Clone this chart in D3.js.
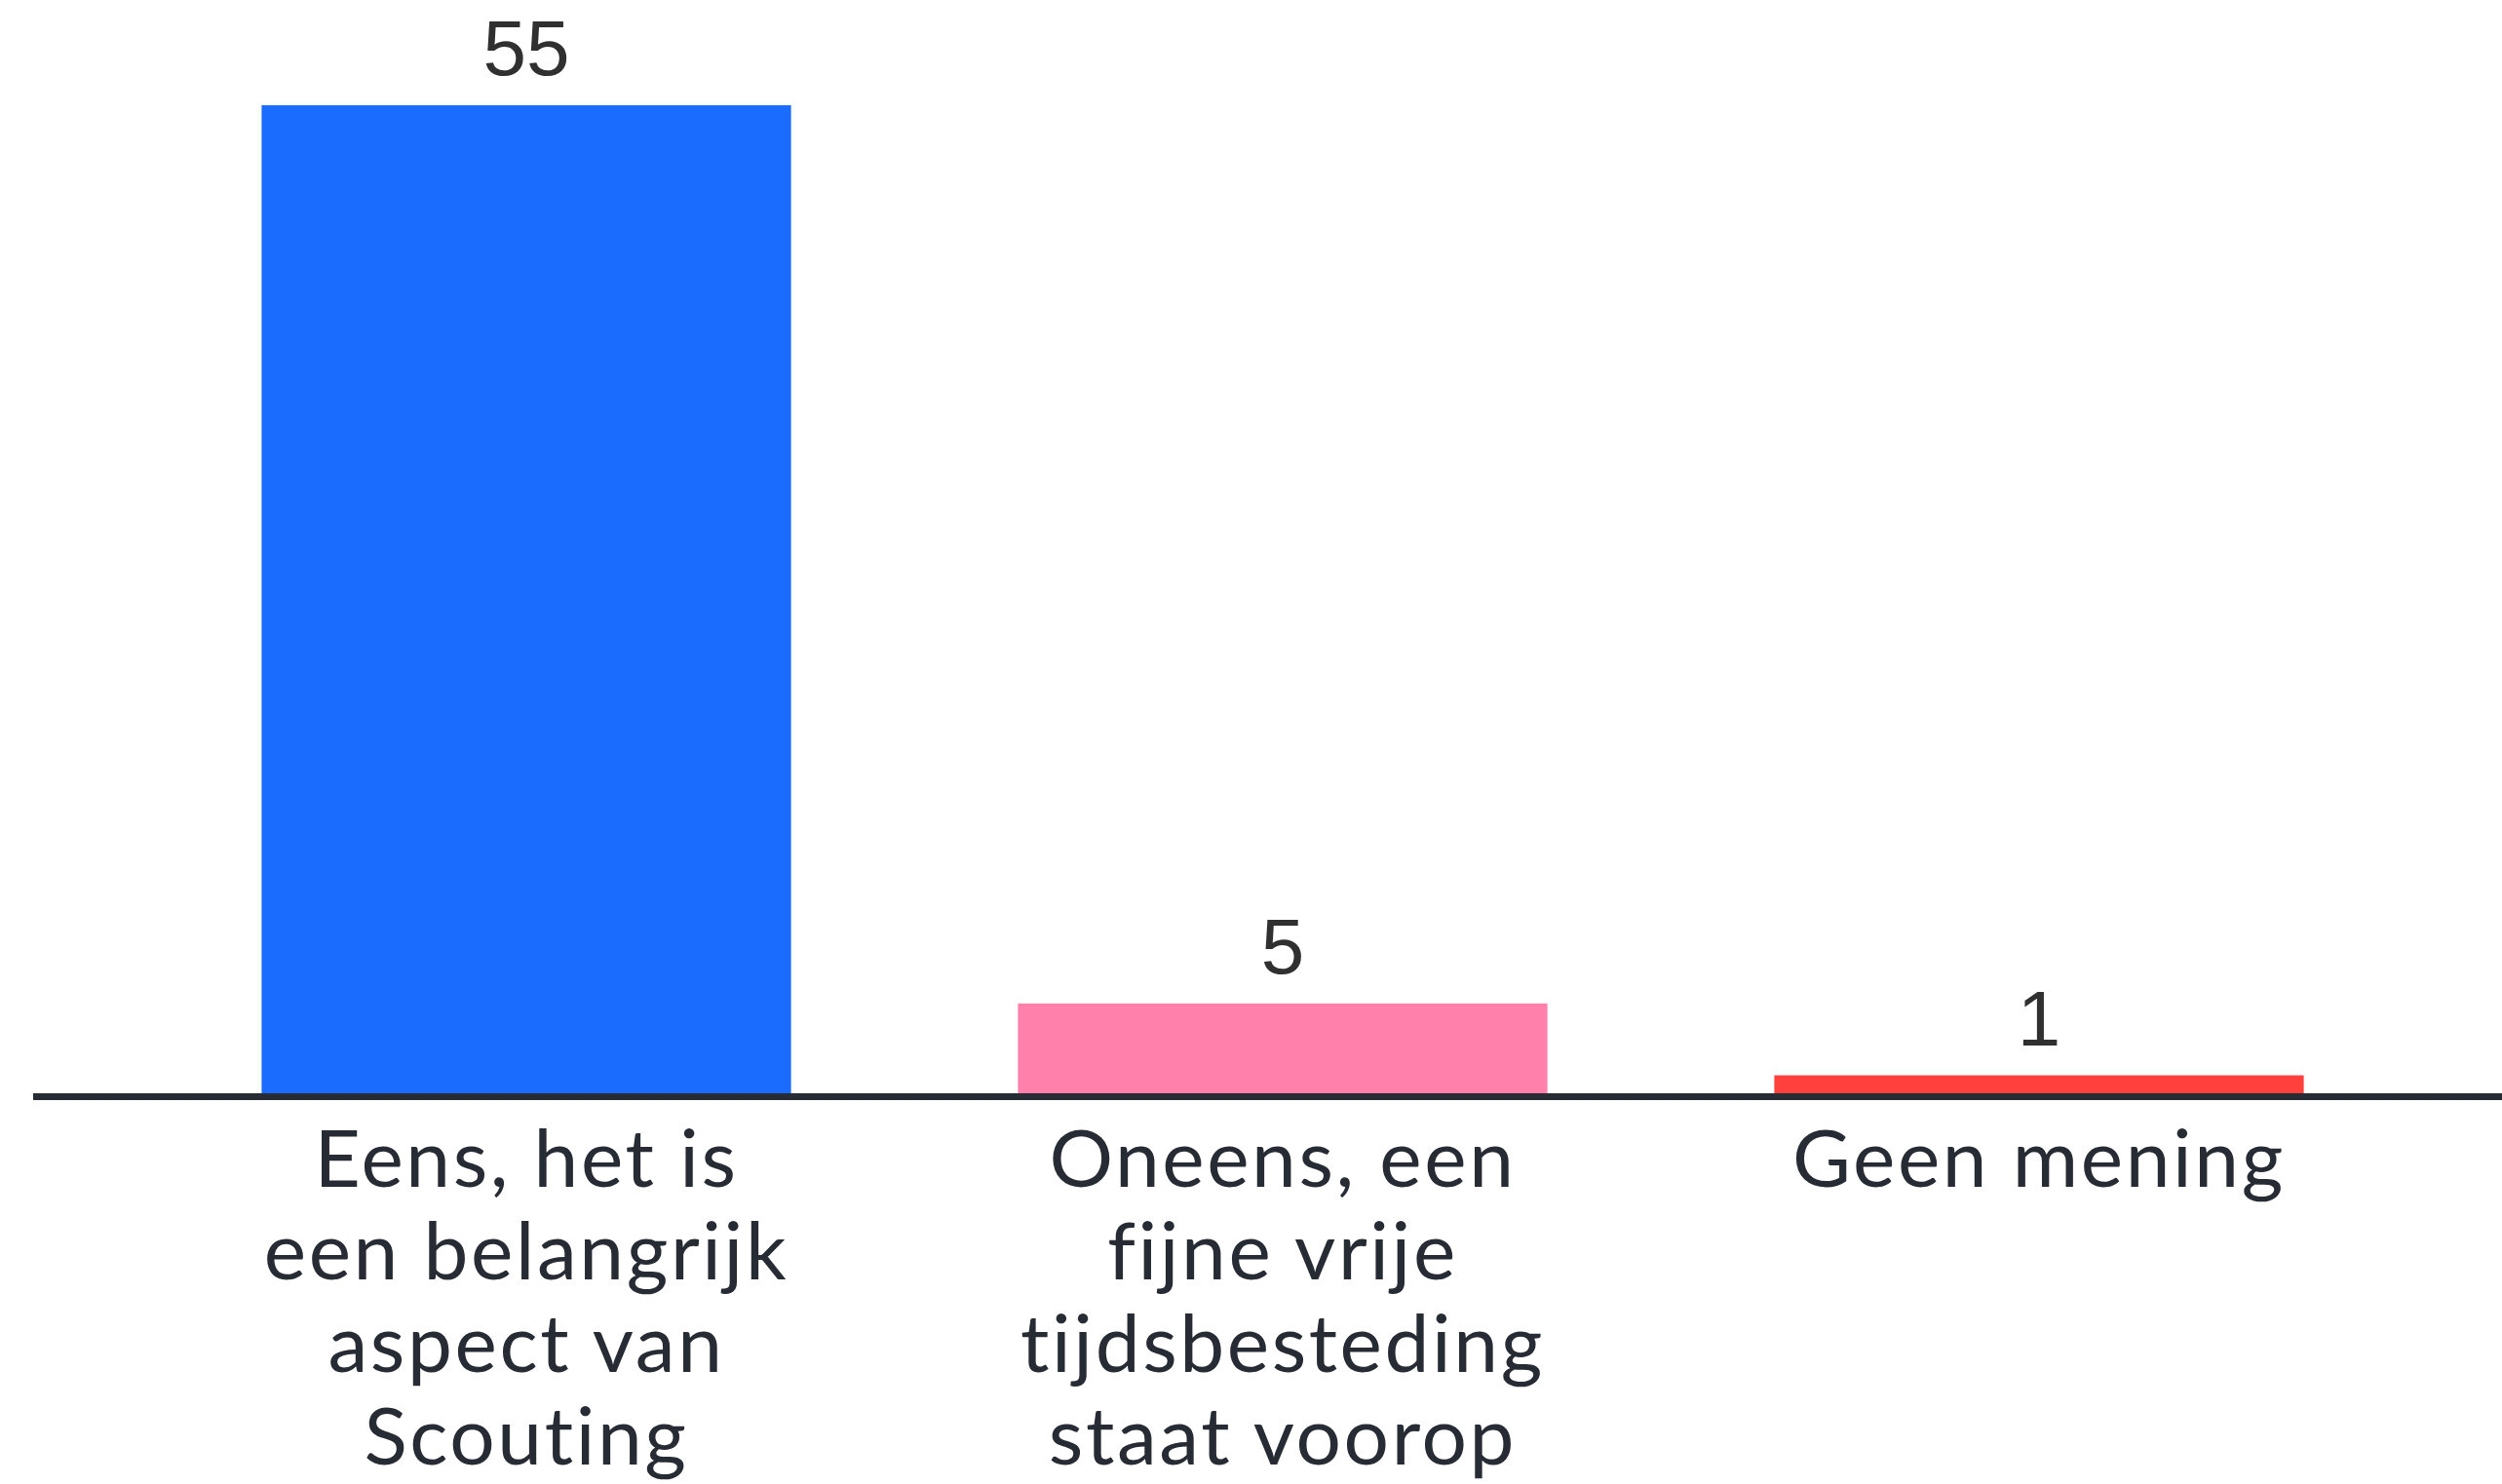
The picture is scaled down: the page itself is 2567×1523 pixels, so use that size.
<!DOCTYPE html>
<html>
<head>
<meta charset="utf-8">
<script src="https://cdn.jsdelivr.net/npm/d3@7"></script>
<style>
  html, body { margin: 0; padding: 0; background: #ffffff; }
  svg { display: block; }
</style>
</head>
<body>
<div id="chart"></div>
<script>
// answers (one label line per entry) and counts
var categories = ['Eens', 'Oneens', 'Geen mening'];
var labelLines = [
  ['Eens, het is', 'een belangrijk', 'aspect van', 'Scouting'],
  ['Oneens, een', 'fijne vrije', 'tijdsbesteding', 'staat voorop'],
  ['Geen mening']
];
var counts = [55, 5, 1];
var barColors = ['#196cff', '#ff80ab', '#ff403d'];

var width = 2567;
var height = 1523;

var svg = d3.select('#chart').append('svg')
  .attr('width', width)
  .attr('height', height);

// scales
var x = d3.scaleBand()
  .domain(categories)
  .range([152, 2480])
  .paddingInner(0.3)
  .paddingOuter(0.15);

var y = d3.scaleLinear()
  .domain([0, d3.max(counts)])
  .range([1122, 108]);

var rows = categories.map(function(c, i) {
  return { cat: c, value: counts[i], lines: labelLines[i], color: barColors[i] };
});

// bars
svg.selectAll('rect.bar')
  .data(rows)
  .enter()
  .append('rect')
  .attr('class', 'bar')
  .attr('x', d => x(d.cat))
  .attr('y', d => y(d.value))
  .attr('width', x.bandwidth())
  .attr('height', d => y(0) - y(d.value))
  .attr('fill', d => d.color);

// value labels above bars
svg.selectAll('text.value')
  .data(rows)
  .enter()
  .append('text')
  .attr('class', 'value')
  .attr('x', d => x(d.cat) + x.bandwidth() / 2)
  .attr('y', d => y(d.value) - 31)
  .attr('text-anchor', 'middle')
  .style('font-family', '"Liberation Sans", Arial, sans-serif')
  .style('font-size', '80px')
  .attr('fill', '#303030')
  .text(d => d.value);

// baseline
svg.append('line')
  .attr('x1', 34)
  .attr('x2', width)
  .attr('y1', y(0) + 3.5)
  .attr('y2', y(0) + 3.5)
  .attr('stroke', '#272b34')
  .attr('stroke-width', 7);

// category labels, wrapped as in the original
var labels = svg.selectAll('text.cat')
  .data(rows)
  .enter()
  .append('text')
  .attr('class', 'cat')
  .attr('text-anchor', 'middle')
  .style('font-family', 'Lato, "Noto Sans", sans-serif')
  .style('font-size', '82px')
  .style('letter-spacing', '2.6px')
  .style('font-variant-ligatures', 'none')
  .attr('fill', '#272b34');

labels.selectAll('tspan')
  .data(d => d.lines.map(function(l) { return { line: l, cx: x(d.cat) + x.bandwidth() / 2 }; }))
  .enter()
  .append('tspan')
  .attr('x', d => d.cx)
  .attr('y', (d, i) => 1218 + i * 95)
  .text(d => d.line);
</script>
</body>
</html>
